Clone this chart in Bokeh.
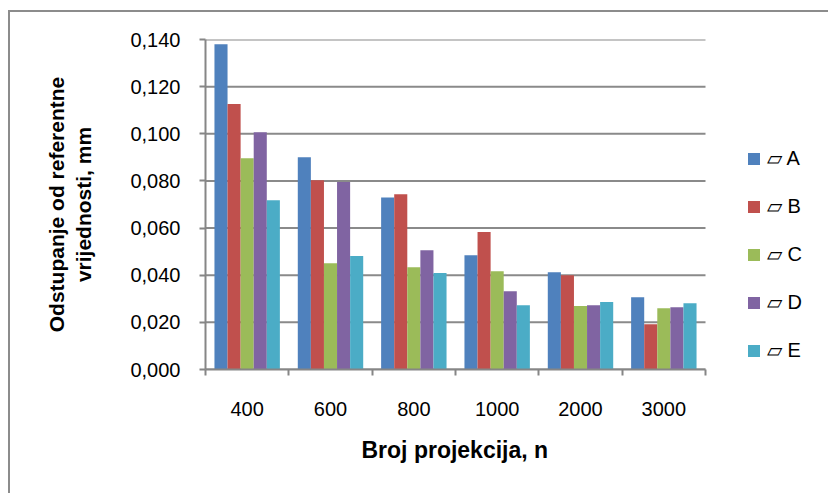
from bokeh.plotting import figure
from bokeh.models import Range1d, FixedTicker, Legend, LegendItem, Title
from bokeh.embed import file_html
from bokeh.resources import INLINE

# ---- data ----
categories = ["400", "600", "800", "1000", "2000", "3000"]
series_names = ["A", "B", "C", "D", "E"]
A = [0.138, 0.090, 0.073, 0.0485, 0.0413, 0.0307]
B = [0.1126, 0.0803, 0.0744, 0.0583, 0.0400, 0.0192]
C = [0.0896, 0.0451, 0.0434, 0.0417, 0.0269, 0.0260]
D = [0.1007, 0.0795, 0.0506, 0.0332, 0.0273, 0.0264]
E = [0.0718, 0.0481, 0.0409, 0.0273, 0.0286, 0.0281]
y_ticks = [0.0, 0.02, 0.04, 0.06, 0.08, 0.10, 0.12, 0.14]
y_tick_labels = ["0,000", "0,020", "0,040", "0,060", "0,080", "0,100", "0,120", "0,140"]
colors = ["#4F81BD", "#C0504D", "#9BBB59", "#8064A2", "#4BACC6"]

series = [A, B, C, D, E]
n_groups = len(categories)
bar_w = 0.157
x_end = n_groups * 615 / 500.0   # frame extends to the right to hold the legend

p = figure(width=820, height=483, output_backend="svg", toolbar_location=None,
           x_range=Range1d(0, x_end), y_range=Range1d(0, 0.14),
           min_border_left=195, min_border_right=10, min_border_top=27,
           min_border_bottom=126)
p.margin = (10, 0, 0, 8)
p.styles = {"border-left": "2px solid #8c8c8c", "border-top": "2px solid #8c8c8c"}
p.outline_line_color = None
p.background_fill_color = "white"
p.border_fill_color = "white"

gray = "#868686"
FONT = "Liberation Sans"

# horizontal gridlines over the data area only
p.segment(x0=[0] * len(y_ticks), y0=y_ticks, x1=[n_groups] * len(y_ticks), y1=y_ticks,
          line_color="#8a8a8a", line_width=2)

renderers = []
for k, (name, vals, col) in enumerate(zip(series_names, series, colors)):
    xs = [i + 0.5 + (k - 2) * bar_w for i in range(n_groups)]
    r = p.vbar(x=xs, top=vals, width=bar_w, fill_color=col, line_color=None)
    renderers.append(r)

# x axis
centers = [i + 0.5 for i in range(n_groups)]
p.xaxis.bounds = (0, n_groups)
p.xaxis.ticker = FixedTicker(ticks=centers, minor_ticks=list(range(n_groups + 1)))
p.xaxis.major_label_overrides = {c: lab for c, lab in zip(centers, categories)}
p.xaxis.major_tick_line_color = None
p.xaxis.major_tick_out = 0
p.xaxis.major_tick_in = 0
p.xaxis.minor_tick_line_color = gray
p.xaxis.minor_tick_line_width = 2
p.xaxis.minor_tick_out = 6
p.xaxis.minor_tick_in = 0
p.xaxis.axis_line_color = gray
p.xaxis.axis_line_width = 2
p.xaxis.major_label_text_font = FONT
p.xaxis.major_label_text_font_size = "20px"
p.xaxis.major_label_text_color = "black"
p.xaxis.major_label_standoff = 26

# x axis title, placed under the data area
p.add_layout(Title(text="Broj projekcija, n", align="left", offset=156,
                   standoff=33, text_font=FONT, text_font_style="bold",
                   text_font_size="23px", text_color="black"), "below")

# y axis
p.yaxis.ticker = FixedTicker(ticks=y_ticks, minor_ticks=[])
p.yaxis.major_label_overrides = {t: lab for t, lab in zip(y_ticks, y_tick_labels)}
p.yaxis.major_tick_line_color = gray
p.yaxis.major_tick_line_width = 2
p.yaxis.major_tick_out = 6
p.yaxis.major_tick_in = 0
p.yaxis.minor_tick_line_color = None
p.yaxis.axis_line_color = gray
p.yaxis.axis_line_width = 2
p.yaxis.major_label_text_font = FONT
p.yaxis.major_label_text_font_size = "20px"
p.yaxis.major_label_text_color = "black"
p.yaxis.major_label_standoff = 19
p.yaxis.axis_label = "Odstupanje od referentne\nvrijednosti, mm"
p.yaxis.axis_label_text_font = FONT
p.yaxis.axis_label_text_font_style = "bold"
p.yaxis.axis_label_text_font_size = "21px"
p.yaxis.axis_label_text_color = "black"
p.yaxis.axis_label_standoff = 32

p.xgrid.grid_line_color = None
p.ygrid.grid_line_color = None

# legend
items = [LegendItem(label="\u25b1 " + n, renderers=[r]) for n, r in zip(series_names, renderers)]
legend = Legend(items=items, location=(541, 7), orientation="vertical",
                glyph_width=15, glyph_height=15, label_height=20,
                label_standoff=6, spacing=24, padding=0, margin=0,
                border_line_color=None, background_fill_alpha=0,
                label_text_font=FONT, label_text_font_size="20px",
                label_text_color="black")
p.add_layout(legend, "center")

open("out.html", "w").write(file_html(p, INLINE))
